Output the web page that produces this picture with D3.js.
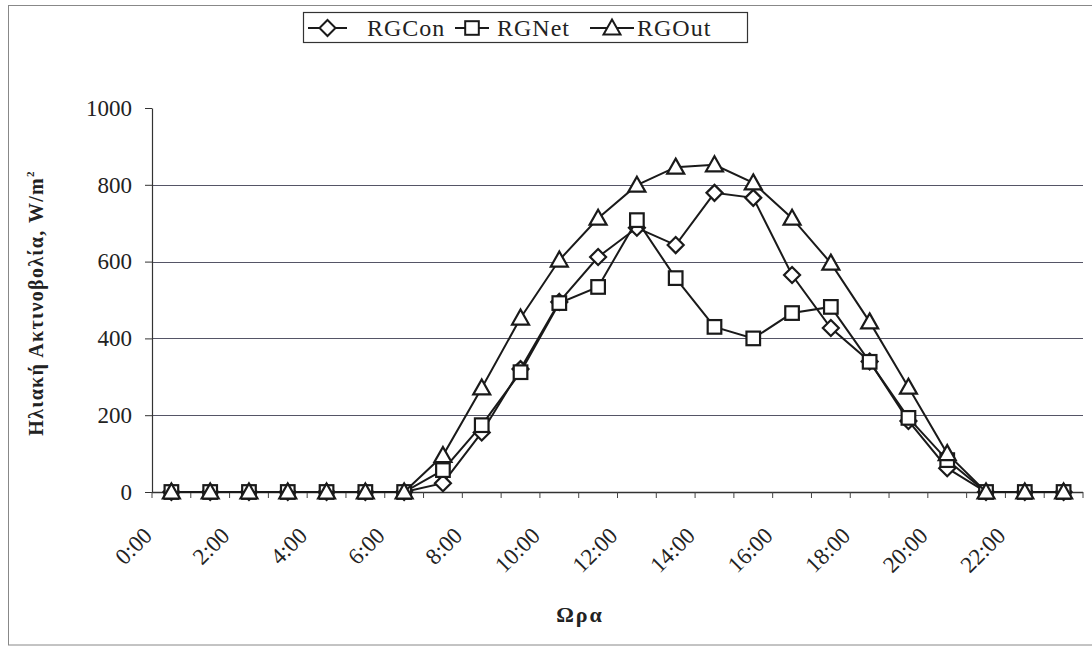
<!DOCTYPE html>
<html>
<head>
<meta charset="utf-8">
<script src="https://cdn.jsdelivr.net/npm/d3@7"></script>
<style>
  html, body { margin: 0; padding: 0; background: #fff; }
  svg { display: block; }
  text { font-family: "Liberation Serif", "Times New Roman", serif; fill: #222; }
</style>
</head>
<body>
<svg id="chart" width="1092" height="653"></svg>
<script>
// ---- data ----
const hours = ["0:00","1:00","2:00","3:00","4:00","5:00","6:00","7:00","8:00","9:00","10:00","11:00",
               "12:00","13:00","14:00","15:00","16:00","17:00","18:00","19:00","20:00","21:00","22:00","23:00"];
const tickLabels = ["0:00","2:00","4:00","6:00","8:00","10:00","12:00","14:00","16:00","18:00","20:00","22:00"];
const yTicks = [0, 200, 400, 600, 800, 1000];
const seriesNames = ["RGCon", "RGNet", "RGOut"];
const rgCon = [0,0,0,0,0,0,0,23,155,320,495,612,688,643,779,766,565,427,340,185,62,0,0,0];
const rgNet = [0,0,0,0,0,0,0,57,174,312,492,534,708,557,430,400,466,482,339,193,83,0,0,0];
const rgOut = [0,0,0,0,0,0,0,95,271,453,604,713,799,846,852,805,713,596,443,273,100,0,0,0];
const yTitle = "Ηλιακή Ακτινοβολία, W/m";
const xTitle = "Ωρα";

(function () {
// ---- layout ----
const svg = d3.select("#chart");
const pLeft = 152, pRight = 1083, pTop = 108, pBottom = 492;
const x = d3.scaleBand().domain(hours).range([pLeft, pRight]).paddingInner(0).paddingOuter(0);
const y = d3.scaleLinear().domain([0, 1000]).range([pBottom, pTop]);
const bw = x.bandwidth();
const cx = h => x(h) + bw / 2;

// outer border
svg.append("rect").attr("x", 8.5).attr("y", 5.5).attr("width", 1100).attr("height", 639.5)
  .attr("fill", "none").attr("stroke", "#888").attr("stroke-width", 1);

// gridlines
svg.append("g").selectAll("line").data(yTicks.filter(v => v > 0 && v < 1000)).join("line")
  .attr("x1", pLeft).attr("x2", pRight)
  .attr("y1", d => Math.round(y(d)) + 0.5).attr("y2", d => Math.round(y(d)) + 0.5)
  .attr("stroke", "#556").attr("stroke-width", 1.2);

// y axis
const yAxis = svg.append("g").attr("transform", `translate(${pLeft},0)`)
  .call(d3.axisLeft(y).tickValues(yTicks).tickFormat(d3.format("d"))
    .tickSize(7).tickSizeOuter(0).tickPadding(13));
yAxis.select(".domain").attr("stroke", "#333").attr("stroke-width", 1.2);
yAxis.selectAll(".tick line").attr("stroke", "#333");
yAxis.selectAll(".tick text").attr("font-size", 23).attr("fill", "#222");

// x axis line and ticks (between categories)
svg.append("line").attr("x1", pLeft).attr("x2", pRight).attr("y1", pBottom + 0.5).attr("y2", pBottom + 0.5)
  .attr("stroke", "#333").attr("stroke-width", 1.5);
svg.append("g").selectAll("line").data(hours.concat(["end"])).join("line")
  .attr("x1", d => d === "end" ? pRight : x(d)).attr("x2", d => d === "end" ? pRight : x(d))
  .attr("y1", pBottom).attr("y2", pBottom + 6).attr("stroke", "#444").attr("stroke-width", 1);

// x tick labels
svg.append("g").selectAll("text").data(tickLabels).join("text")
  .attr("transform", d => `translate(${cx(d) - 18},${pBottom + 45}) rotate(-45)`)
  .attr("text-anchor", "end").attr("font-size", 23).text(d => d);

// axis titles
svg.append("text").attr("transform", `translate(43,303) rotate(-90)`)
  .attr("text-anchor", "middle").attr("font-size", 20).attr("font-weight", "bold")
  .attr("letter-spacing", 1.3)
  .text(yTitle).append("tspan").attr("font-size", 11).attr("dy", -9).text("2");
svg.append("text").attr("x", 580).attr("y", 622).attr("text-anchor", "middle")
  .attr("font-size", 22).attr("font-weight", "bold").attr("letter-spacing", 2).text(xTitle);

// markers
function marker(g, type, px, py) {
  if (type === "RGCon") {
    const s = 8;
    g.append("path").attr("d", `M${px},${py - s}L${px + s},${py}L${px},${py + s}L${px - s},${py}Z`);
  } else if (type === "RGNet") {
    const s = 6.8;
    g.append("rect").attr("x", px - s).attr("y", py - s).attr("width", 2 * s).attr("height", 2 * s);
  } else {
    g.append("path").attr("d", `M${px},${py - 8.5}L${px + 8.5},${py + 6.5}L${px - 8.5},${py + 6.5}Z`);
  }
}

const seriesData = [rgCon, rgNet, rgOut];
const line = d3.line().x((d, i) => cx(hours[i])).y(d => y(d));
seriesData.forEach((vals, k) => {
  const name = seriesNames[k];
  const g = svg.append("g");
  g.append("path").datum(vals).attr("d", line).attr("fill", "none")
    .attr("stroke", "#1a1a1a").attr("stroke-width", 2);
  const mg = g.append("g").attr("fill", "#fff").attr("stroke", "#1a1a1a").attr("stroke-width", 2.2);
  vals.forEach((v, i) => marker(mg, name, cx(hours[i]), y(v)));
});

// legend
const lg = svg.append("g");
lg.append("rect").attr("x", 303.5).attr("y", 12.5).attr("width", 444).attr("height", 30)
  .attr("fill", "#fff").attr("stroke", "#333").attr("stroke-width", 1.2);
const legendItems = [
  { name: "RGCon", x0: 308, x1: 347, tx: 367 },
  { name: "RGNet", x0: 455, x1: 489, tx: 497 },
  { name: "RGOut", x0: 590, x1: 634, tx: 637 }
];
legendItems.forEach(it => {
  const ly = 28;
  lg.append("line").attr("x1", it.x0).attr("x2", it.x1).attr("y1", ly).attr("y2", ly)
    .attr("stroke", "#1a1a1a").attr("stroke-width", 2);
  const mg = lg.append("g").attr("fill", "#fff").attr("stroke", "#1a1a1a").attr("stroke-width", 2);
  marker(mg, it.name, (it.x0 + it.x1) / 2, ly);
  lg.append("text").attr("x", it.tx).attr("y", 36).attr("font-size", 24)
    .attr("letter-spacing", 1).text(it.name);
});
})();
</script>
</body>
</html>
